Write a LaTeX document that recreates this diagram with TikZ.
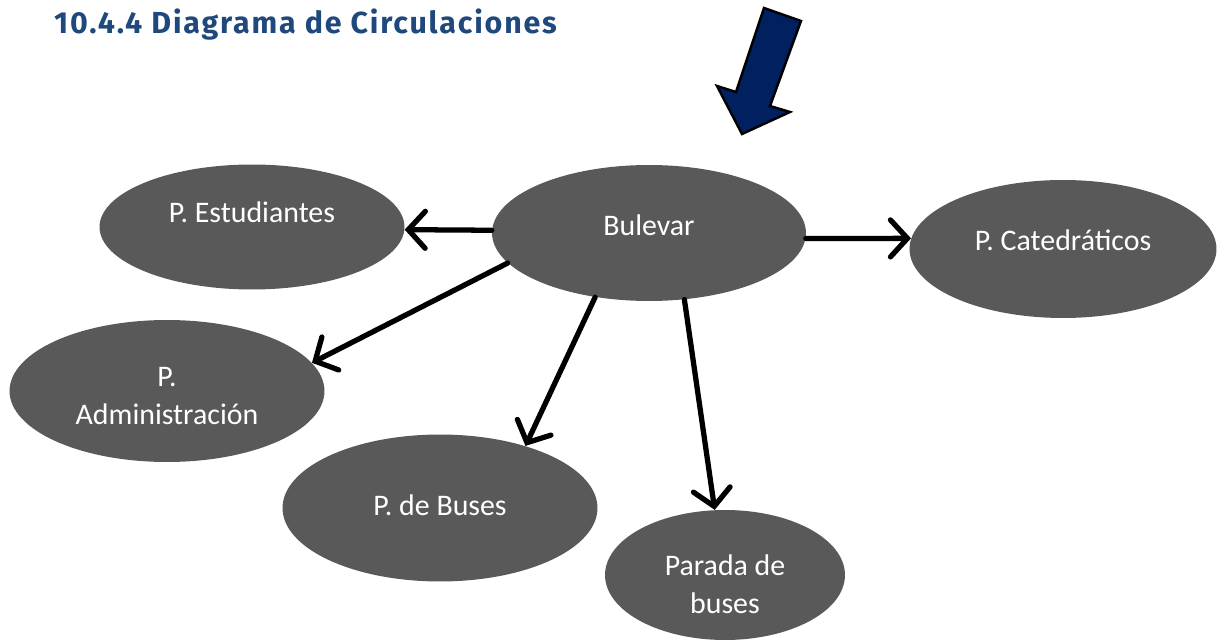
\documentclass[tikz,border=0pt]{standalone}
\usepackage{fontspec}
\setmainfont{Carlito}
\newfontfamily\titlefont[LetterSpace=6]{Fira Sans}
\usetikzlibrary{shapes.geometric,arrows.meta}
\definecolor{titleblue}{RGB}{31,73,125}
\definecolor{navyarrow}{RGB}{0,32,96}
\definecolor{blobgray}{RGB}{89,89,89}
\tikzset{
  blob/.style={ellipse,fill=blobgray,inner sep=0pt},
  blobtxt/.style={text=white,inner sep=0pt,align=center,
    font=\fontsize{17}{21.5}\selectfont},
  flow/.style={-{Straight Barb[length=3.4mm,width=7.4mm,line cap=round]},
    line width=3pt,line cap=round},
}
\begin{document}
\begin{tikzpicture}[x=0.02cm,y=-0.02cm]
  \useasboundingbox (0,0) rectangle (1217,641);
  \node[anchor=base west,text=titleblue,font=\titlefont\bfseries\fontsize{17.3}{21}\selectfont]
    (title) at (48,34) {10.4.4 Diagrama de Circulaciones};
  % big pointer
  \draw[fill=navyarrow,line width=1.4pt,line join=miter]
    (764,8) -- (801,21) -- (770,106) -- (790,112) -- (742,134)
    -- (717,86) -- (736,92) -- cycle;
  % places
  \node[blob,minimum width=6.28cm,minimum height=2.72cm,
    label={[blobtxt,yshift=0.16cm]center:Bulevar}] (bul) at (649,233) {};
  \node[blob,minimum width=6.1cm,minimum height=2.5cm,
    label={[blobtxt,yshift=0.3cm]center:P. Estudiantes}] (est) at (252,227) {};
  \node[blob,minimum width=6.14cm,minimum height=2.76cm,
    label={[blobtxt,yshift=0.18cm]center:P. Catedráticos}] (cat) at (1063,249) {};
  \node[blob,minimum width=6.3cm,minimum height=2.84cm,
    label={[blobtxt,yshift=-0.1cm]center:P.\\Administración}] (adm) at (167,391) {};
  \node[blob,minimum width=6.3cm,minimum height=2.94cm,
    label={[blobtxt,yshift=0.06cm]center:P. de Buses}] (bus) at (440,508) {};
  \node[blob,minimum width=4.8cm,minimum height=2.6cm,
    label={[blobtxt,yshift=-0.18cm]center:Parada de\\buses}] (par) at (725,575) {};
  % circulation
  \draw[flow] (bul.179) -- (est.359);
  \draw[flow] (bul.358) -- (cat.176);
  \draw[flow] (bul.192) -- (adm.11);
  \draw[flow] (bul.230) -- (bus.36);
  \draw[flow] (bul.298) -- (par.99);
\end{tikzpicture}
\end{document}
